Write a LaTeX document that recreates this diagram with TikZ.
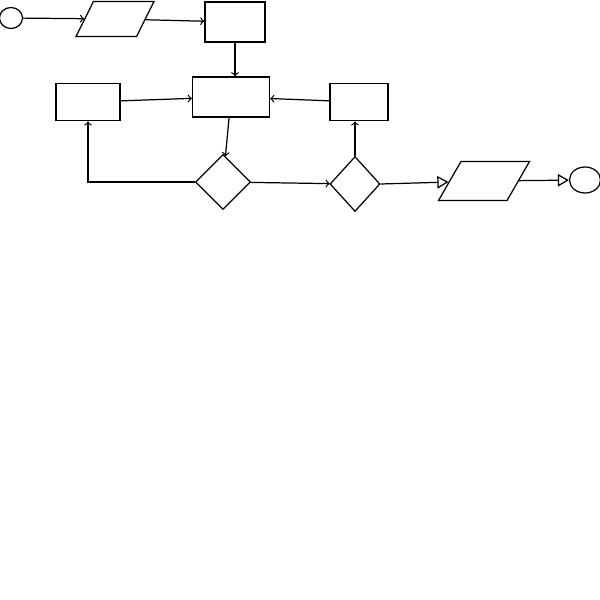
\documentclass[tikz,border=0pt]{standalone}
\usepackage{tikz}
\usetikzlibrary{arrows,shapes.geometric}

\begin{document}
\begin{tikzpicture}[x=0.2mm,y=-0.2mm,->,>=to,line width=0.7pt,
    box node/.style={rectangle,draw,inner sep=0pt,minimum width=12mm,minimum height=7.5mm},
    io node/.style={trapezium,trapezium stretches=true,trapezium left angle=68,trapezium right angle=112,draw,inner sep=1pt,minimum height=7mm},
    choice node/.style={diamond,draw,inner sep=0pt,minimum width=10.5mm,minimum height=11mm},
    end node/.style={ellipse,draw,inner sep=0pt}]
  \useasboundingbox (0,0) rectangle (600,600);

  \node[end node,minimum width=4.6mm,minimum height=4.2mm] (start) at (11,18) {};
  \node[io node,minimum width=15.6mm] (read) at (115,19) {};
  \node[box node,minimum height=8mm] (init) at (235,22) {};

  \node[box node,minimum width=15.4mm,minimum height=8mm] (loop) at (231,97) {};
  \node[box node,minimum width=12.8mm] (left) at (88,102) {};
  \node[box node,minimum width=11.6mm] (right) at (359,102) {};

  \node[choice node,minimum width=11mm] (test) at (223,182) {};
  \node[choice node,minimum width=10mm] (check) at (355,184) {};
  \node[io node,trapezium left angle=64,trapezium right angle=116,minimum width=18.2mm,minimum height=7.8mm] (write) at (484,181) {};
  \node[end node,minimum width=6.2mm,minimum height=5.2mm] (stop) at (585,180) {};

  \path
        (start) edge (read)
        (read)  edge (init)
        (init)  edge (init.south |- loop.north)
        (left)  edge (loop)
        (right) edge (loop)
        (loop)  edge (test)
        (test)  edge (check)
        (check.north) edge (check.north |- right.south)
        ;
  \draw (test.west) -| (left.south);
  \draw[-open triangle 60] (check.east) -- (write);
  \draw[-open triangle 60] (write) -- (stop);

\end{tikzpicture}
\end{document}
